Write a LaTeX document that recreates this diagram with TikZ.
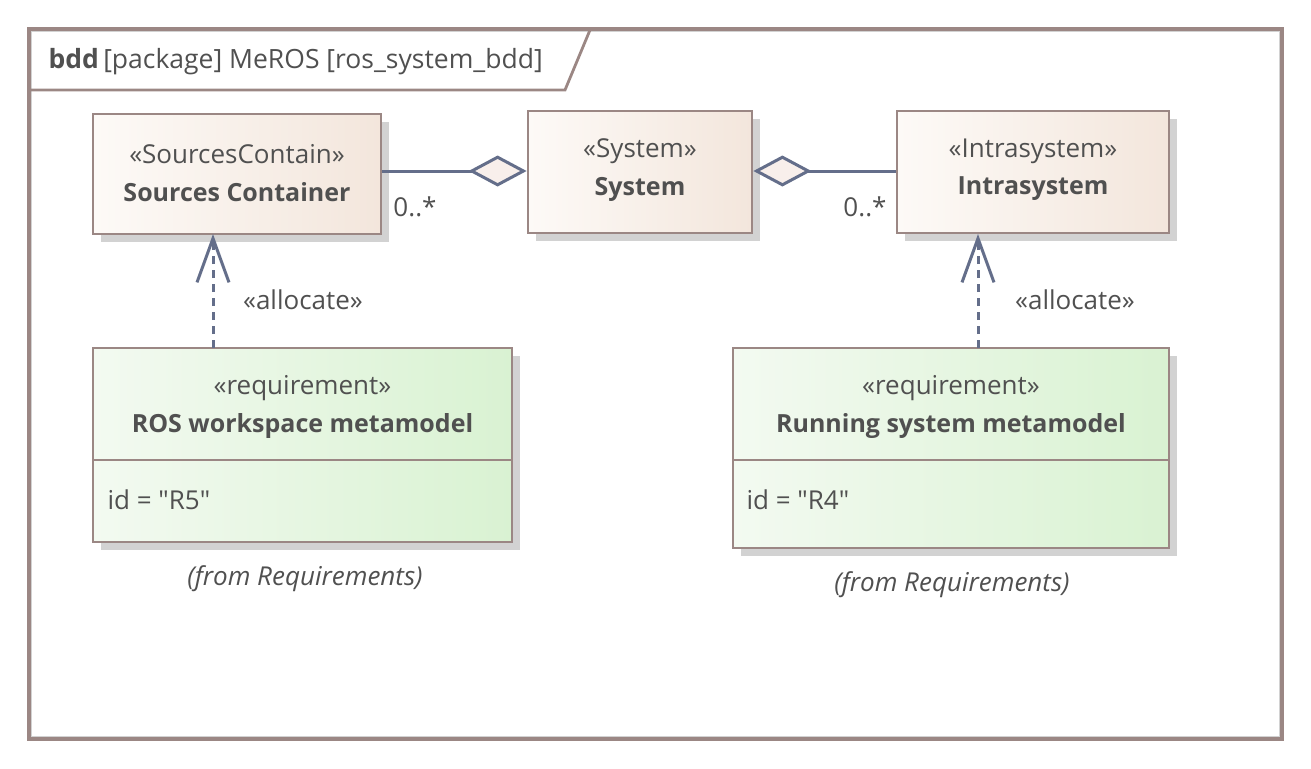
\documentclass[tikz,border=0pt]{standalone}
\usepackage{fontspec}
\setmainfont{Open Sans}[Ligatures=TeXOff]
\usepackage{xcolor}
\usetikzlibrary{arrows.meta,shadows}
\definecolor{ink}{HTML}{505050}
\definecolor{rim}{HTML}{9B8784}
\definecolor{wire}{HTML}{646E8A}
\definecolor{blockL}{HTML}{FDFAF7}
\definecolor{blockR}{HTML}{F3E6DC}
\definecolor{reqL}{HTML}{F3FAF1}
\definecolor{reqR}{HTML}{D9F2D2}
\definecolor{shadowc}{HTML}{D2D2D2}
\definecolor{diafill}{HTML}{F8EFEB}
\tikzset{
  block/.style={draw=rim, line width=2.8pt, left color=blockL, right color=blockR,
    inner sep=0pt, general shadow={fill=shadowc, shadow xshift=8pt, shadow yshift=-8pt}},
  req/.style={block, left color=reqL, right color=reqR},
  stereo/.style={text=ink, font=\fontsize{26}{30}\selectfont},
  bname/.style={text=ink, font=\fontsize{25}{30}\selectfont\bfseries},
  lbl/.style={text=ink, font=\fontsize{26}{30}\selectfont},
  fromtxt/.style={text=ink, font=\fontsize{26}{30}\selectfont\itshape},
  assoc/.style={draw=wire, line width=3pt,
    -{Diamond[length=58pt,width=31pt,line width=3pt,fill=diafill]}},
  alloc/.style={draw=wire, line width=3pt, dash pattern=on 8pt off 6pt,
    -{Straight Barb[length=44pt,width=32pt,line width=3pt]}}
}

\begin{document}
\begin{tikzpicture}[x=1pt,y=-1pt]
\useasboundingbox (0,0) rectangle (1311,768);
% frame
\draw[rim, line width=3.4pt] (29,29) rectangle (1282,739);
\draw[shadowc, line width=1.2pt] (31.8,31.8) rectangle (1279.2,736.2);
\draw[rim, line width=2.8pt] (30,90)--(565,90)--(590,30);
\node[text=ink, font=\fontsize{26.5}{30}\selectfont, anchor=base west] (title) at (45,68)
  {\textbf{bdd}\,[package] MeROS [ros\_system\_bdd]};

% blocks
\node[block, minimum width=288pt, minimum height=120pt] (src) at (237,174) {};
\node[stereo] (srcS) at (237,154) {«SourcesContain»};
\node[bname] (srcN) at (237,192) {Sources Container};

\node[block, minimum width=224pt, minimum height=122pt] (sys) at (640,172) {};
\node[stereo] (sysS) at (640,151) {«System»};
\node[bname] (sysN) at (640,189) {System};

\node[block, minimum width=272pt, minimum height=122pt] (intra) at (1033,172) {};
\node[stereo] (intraS) at (1033,151) {«Intrasystem»};
\node[bname] (intraN) at (1033,189) {Intrasystem};

% requirements
\node[req, minimum width=419pt, minimum height=194pt] (ros) at (302.5,445) {};
\draw[rim, line width=2.8pt] (93,460)--(512,460);
\node[stereo] (rosS) at (302.5,388) {«requirement»};
\node[bname] (rosN) at (302.5,426) {ROS workspace metamodel};
\node[lbl, anchor=west] (rosId) at (104,500) {id = "R5"};
\node[fromtxt] (rosF) at (305,579) {(from Requirements)};

\node[req, minimum width=436pt, minimum height=200pt] (run) at (951,448) {};
\draw[rim, line width=2.8pt] (733,460)--(1169,460);
\node[stereo] (runS) at (951,388) {«requirement»};
\node[bname] (runN) at (951,426) {Running system metamodel};
\node[lbl, anchor=west] (runId) at (743,500) {id = "R4"};
\node[fromtxt] (runF) at (952,585) {(from Requirements)};

% associations
\draw[assoc] (src.east |- 0,171) -- (sys.west |- 0,171);
\draw[assoc] (intra.west |- 0,171) -- (sys.east |- 0,171);
\node[lbl] (m1) at (415,207) {0..*};
\node[lbl] (m2) at (865,207) {0..*};

% allocations
\draw[alloc] (213,348) -- (213,234);
\draw[alloc] (978,348) -- (978,234);
\node[lbl] (a1) at (303,300) {«allocate»};
\node[lbl] (a2) at (1075,300) {«allocate»};
\end{tikzpicture}
\end{document}
